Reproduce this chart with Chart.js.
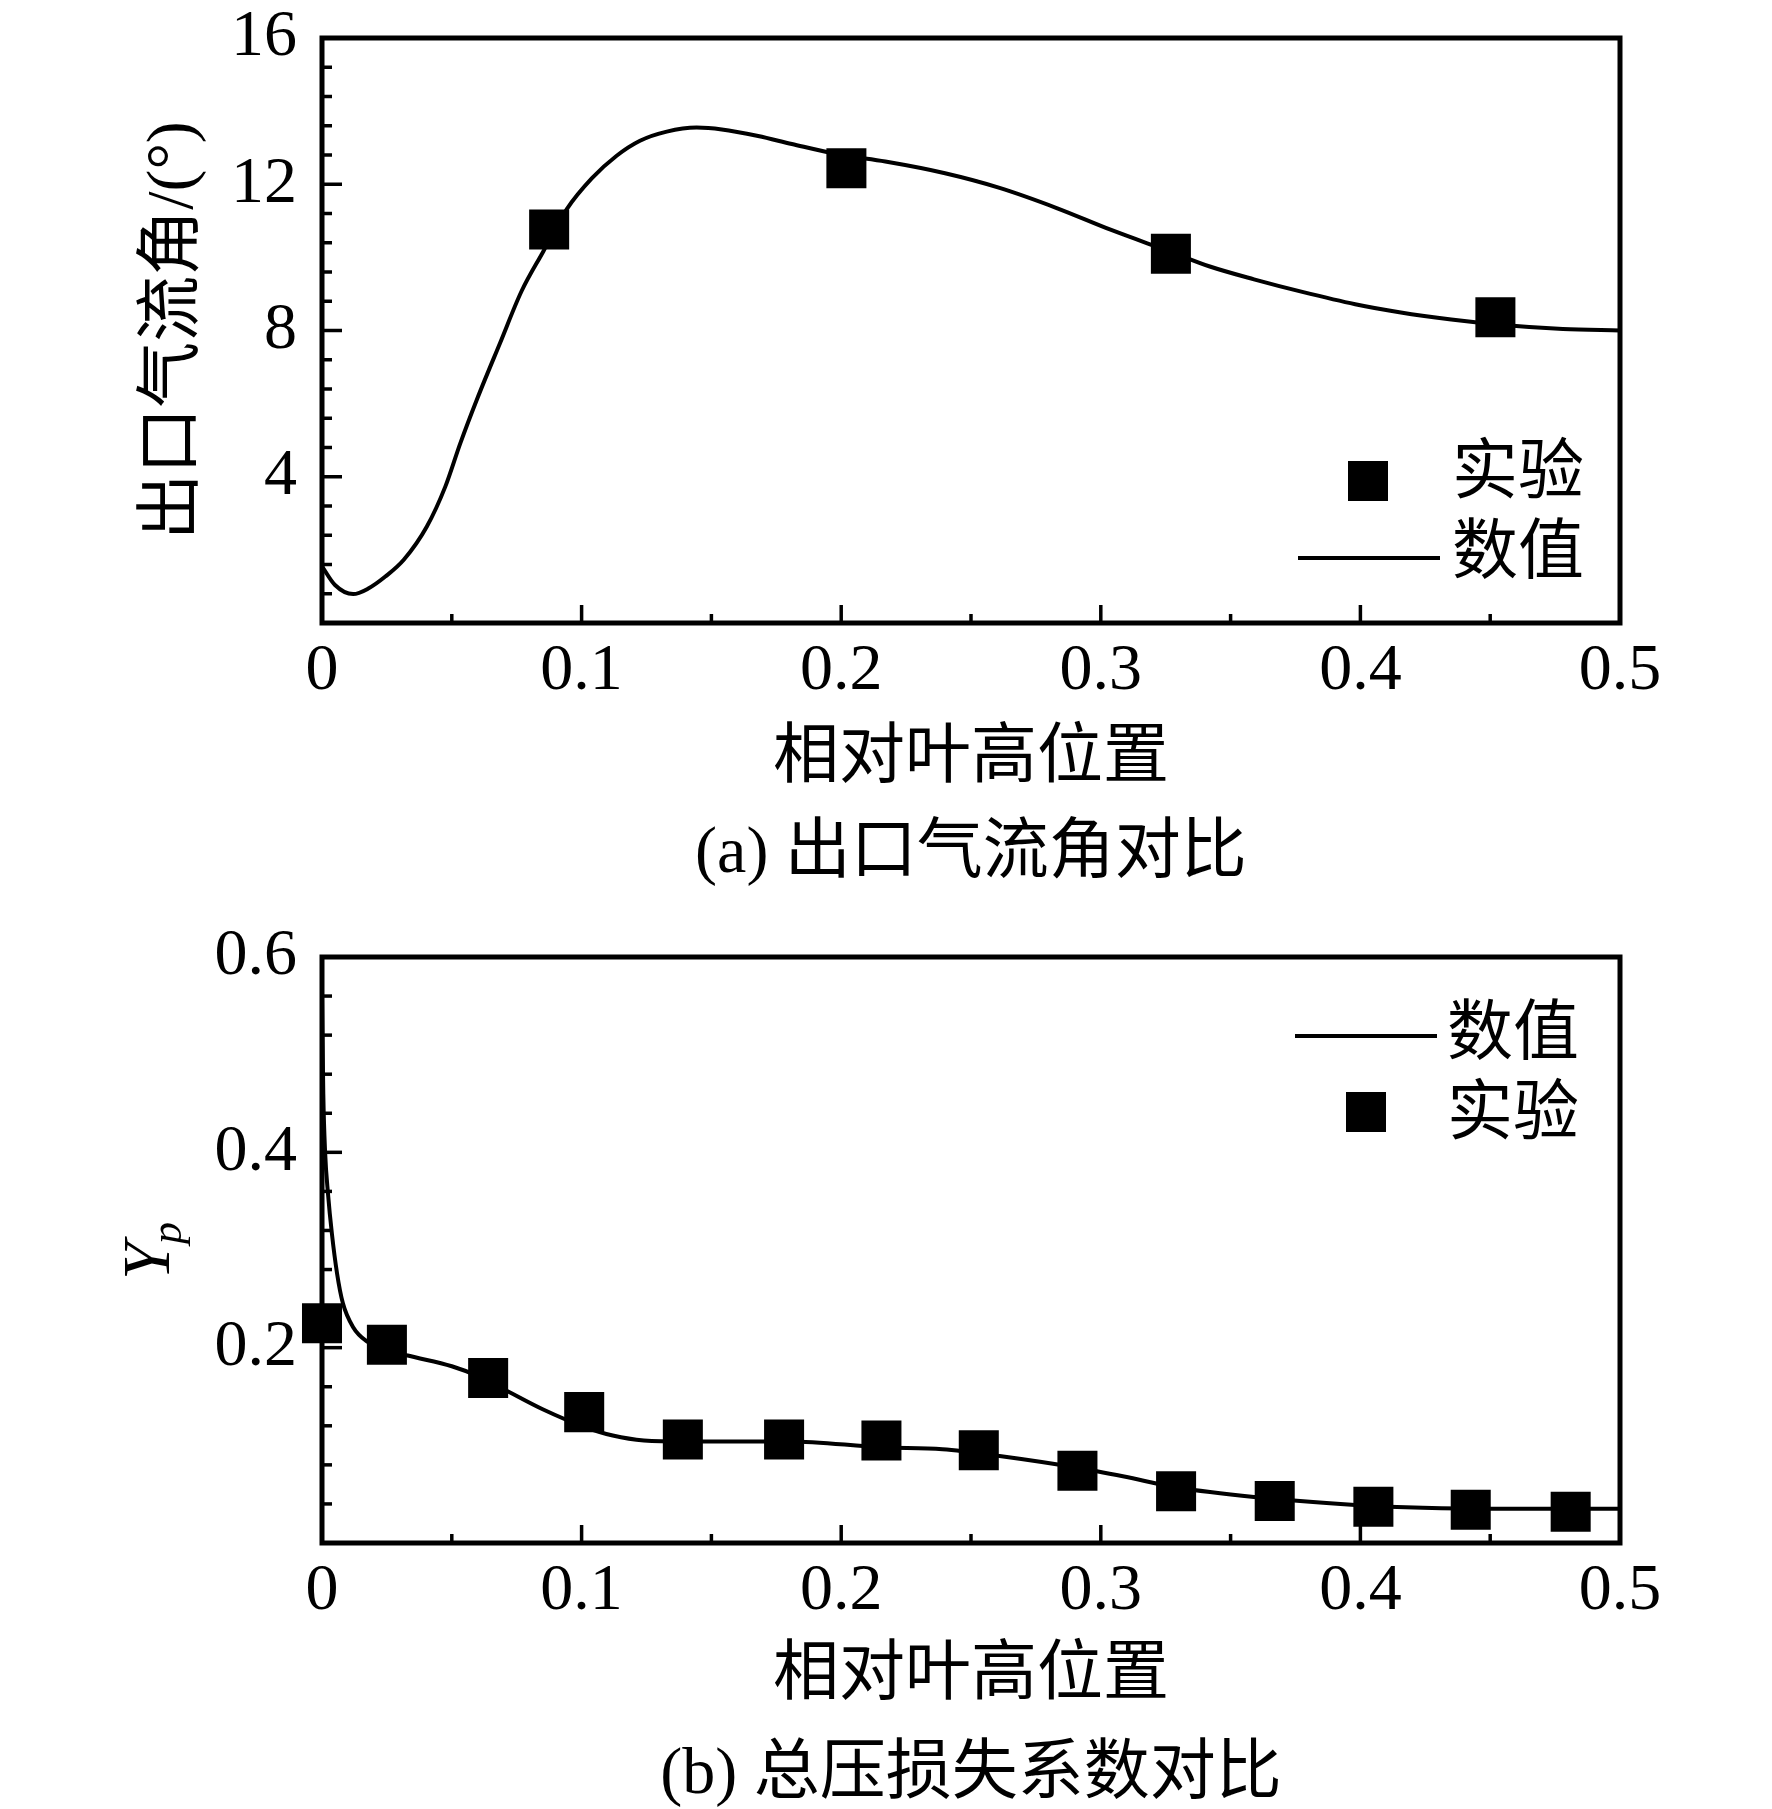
<!DOCTYPE html>
<html lang="zh">
<head>
<meta charset="utf-8">
<title>出口气流角与总压损失系数对比</title>
<script src="https://cdn.jsdelivr.net/npm/chart.js@4.4.1/dist/chart.umd.min.js"></script>
<style>
    html, body { margin: 0; padding: 0; background: #fff; }
    body { width: 1772px; height: 1809px; position: relative; overflow: hidden; }
    canvas { position: absolute; left: 0; }
    #angleChart { top: 0; }
    #lossChart { top: 900px; }
    .caption {
        position: absolute;
        left: 171px;
        width: 1600px;
        text-align: center;
        font: 66px/66px "Liberation Serif", "Noto Sans CJK SC", serif;
        color: #000;
    }
</style>
</head>
<body>
<canvas id="angleChart" width="1772" height="900"></canvas>
<canvas id="lossChart" width="1772" height="909"></canvas>
<div class="caption" style="top:817px">(a) 出口气流角对比</div>
<div class="caption" style="top:1738px">(b) 总压损失系数对比</div>

<script>
// 坐标轴刻度
const xTicks = [0, 0.1, 0.2, 0.3, 0.4, 0.5];
const angleTicks = [4, 8, 12, 16];
const lossTicks = [0.2, 0.4, 0.6];

// (a) 出口气流角 —— 实验
const angleExpX = [0.0875, 0.202, 0.327, 0.452];
const angleExpY = [10.76, 12.44, 10.1, 8.36];

// (a) 出口气流角 —— 数值
const angleSimX = [0, 0.005, 0.012, 0.018, 0.0244, 0.0315, 0.0404, 0.0475, 0.0533, 0.0596,
    0.0686, 0.0769, 0.0853, 0.0943, 0.1039, 0.1135, 0.1225, 0.1328, 0.1443, 0.154, 0.168,
    0.181, 0.200, 0.217, 0.240, 0.261, 0.283, 0.304, 0.327, 0.342, 0.359, 0.378, 0.398,
    0.415, 0.435, 0.455, 0.478, 0.500];
const angleSimY = [1.55, 1.04, 0.79, 0.95, 1.27, 1.73, 2.64, 3.73, 4.92, 6.10,
    7.66, 9.08, 10.17, 11.32, 12.16, 12.78, 13.19, 13.44, 13.55, 13.50, 13.32,
    13.10, 12.80, 12.62, 12.30, 11.90, 11.35, 10.75, 10.15, 9.75, 9.40, 9.05, 8.72,
    8.50, 8.30, 8.15, 8.04, 8.00];

// (b) 总压损失系数 —— 实验
const lossExpX = [0.0, 0.025, 0.064, 0.101, 0.139, 0.178, 0.2155, 0.253, 0.291, 0.329,
    0.367, 0.405, 0.4425, 0.481];
const lossExpY = [0.225, 0.203, 0.169, 0.134, 0.106, 0.106, 0.105, 0.095, 0.074, 0.053,
    0.043, 0.037, 0.034, 0.032];

// (b) 总压损失系数 —— 数值
const lossSimX = [0, 0.0005, 0.0012, 0.0023, 0.0038, 0.0058, 0.008, 0.012, 0.017, 0.025,
    0.033, 0.050, 0.060, 0.0697, 0.085, 0.101, 0.112, 0.124, 0.140, 0.159, 0.180, 0.2155,
    0.239, 0.261, 0.291, 0.309, 0.329, 0.359, 0.398, 0.424, 0.457, 0.500];
const lossSimY = [0.56, 0.46, 0.40, 0.358, 0.317, 0.276, 0.246, 0.221, 0.207, 0.198,
    0.192, 0.181, 0.171, 0.158, 0.137, 0.119, 0.110, 0.105, 0.104, 0.104, 0.104, 0.098,
    0.096, 0.089, 0.077, 0.068, 0.057, 0.047, 0.039, 0.036, 0.035, 0.035];

const FONT = '"Liberation Serif", "Noto Sans CJK SC", serif';

function toPoints(xs, ys) {
    return xs.map((x, i) => ({ x: x, y: ys[i] }));
}

// 边框和向内的刻度线
const frameTicks = {
    id: 'frameTicks',
    beforeDatasetsDraw(chart, args, opts) {
        const { ctx, chartArea: a, scales: { x, y } } = chart;
        ctx.save();
        ctx.strokeStyle = '#000';
        ctx.lineWidth = 3.5;
        ctx.lineCap = 'butt';
        const seg = (x1, y1, x2, y2) => {
            ctx.beginPath(); ctx.moveTo(x1, y1); ctx.lineTo(x2, y2); ctx.stroke();
        };
        // x 轴
        const nx = Math.round((x.max - x.min) / opts.xStep * opts.xDiv);
        for (let i = 0; i <= nx; i++) {
            const px = x.getPixelForValue(x.min + i * opts.xStep / opts.xDiv);
            seg(px, a.bottom, px, a.bottom - (i % opts.xDiv === 0 ? 18 : 9));
        }
        // y 轴
        const ny = Math.round((y.max - y.min) / opts.yStep * opts.yDiv);
        for (let i = 0; i <= ny; i++) {
            const py = y.getPixelForValue(y.min + i * opts.yStep / opts.yDiv);
            seg(a.left, py, a.left + (i % opts.yDiv === 0 ? 20 : 10), py);
        }
        ctx.lineWidth = 5;
        ctx.strokeRect(a.left, a.top, a.right - a.left, a.bottom - a.top);
        ctx.restore();
    }
};

// 图例
const cornerLegend = {
    id: 'cornerLegend',
    afterDraw(chart, args, opts) {
        const ctx = chart.ctx;
        ctx.save();
        ctx.fillStyle = '#000';
        ctx.strokeStyle = '#000';
        ctx.font = '66px ' + FONT;
        ctx.textBaseline = 'middle';
        ctx.textAlign = 'left';
        opts.items.forEach(it => {
            if (it.type === 'rect') {
                ctx.fillRect(it.mx - 20, it.my - 20, 40, 40);
            } else {
                ctx.lineWidth = 4;
                ctx.beginPath();
                ctx.moveTo(it.mx, it.my);
                ctx.lineTo(it.mx2, it.my);
                ctx.stroke();
            }
            ctx.fillText(it.text, it.tx, it.ty);
        });
        ctx.restore();
    }
};

// Y_p 纵轴标题
const ypTitle = {
    id: 'ypTitle',
    afterDraw(chart, args, opts) {
        if (!opts.show) return;
        const ctx = chart.ctx;
        const a = chart.chartArea;
        ctx.save();
        ctx.translate(155, (a.top + a.bottom) / 2);
        ctx.rotate(-Math.PI / 2);
        ctx.fillStyle = '#000';
        ctx.textBaseline = 'alphabetic';
        ctx.textAlign = 'left';
        ctx.font = 'italic 68px "Liberation Serif", serif';
        const wY = ctx.measureText('Y').width;
        ctx.font = 'italic 44px "Liberation Serif", serif';
        const wp = ctx.measureText('p').width;
        const x0 = -(wY + wp) / 2;
        ctx.font = 'italic 68px "Liberation Serif", serif';
        ctx.fillText('Y', x0, 14);
        ctx.font = 'italic 44px "Liberation Serif", serif';
        ctx.fillText('p', x0 + wY - 2, 26);
        ctx.restore();
    }
};

function makeChart(id, cfg) {
    const tickFont = { family: FONT, size: 66, lineHeight: 1 };
    const titleFont = { family: FONT, size: 66, lineHeight: 1.2 };
    const datasets = [
        {
            label: '数值',
            data: toPoints(cfg.simX, cfg.simY),
            showLine: true,
            borderColor: '#000',
            borderWidth: 4,
            pointRadius: 0,
            cubicInterpolationMode: 'monotone',
            clip: false,
            order: 2
        },
        {
            label: '实验',
            data: toPoints(cfg.expX, cfg.expY),
            showLine: false,
            pointStyle: 'rect',
            pointRadius: 28.3,
            backgroundColor: '#000',
            borderColor: '#000',
            borderWidth: 0,
            clip: false,
            order: 1
        }
    ];
    return new Chart(document.getElementById(id), {
        type: 'scatter',
        data: { datasets: datasets },
        plugins: [frameTicks, cornerLegend, ypTitle],
        options: {
            responsive: false,
            animation: false,
            devicePixelRatio: 1,
            layout: { padding: { left: 0, right: 152, top: cfg.padTop, bottom: 0 } },
            plugins: {
                legend: { display: false },
                tooltip: { enabled: false },
                frameTicks: { xStep: 0.1, xDiv: 2, yStep: cfg.yStep, yDiv: 5 },
                cornerLegend: { items: cfg.legend },
                ypTitle: { show: cfg.ypTitle }
            },
            scales: {
                x: {
                    type: 'linear',
                    min: 0,
                    max: 0.5,
                    grid: { display: false, drawTicks: false },
                    border: { display: false },
                    afterBuildTicks: s => { s.ticks = xTicks.map(v => ({ value: v })); },
                    afterFit: s => {
                        s.height = cfg.xHeight;
                        s.paddingLeft = 0;
                        s.paddingRight = 0;
                    },
                    ticks: {
                        color: '#000',
                        font: tickFont,
                        padding: 16,
                        maxRotation: 0,
                        autoSkip: false,
                        callback: v => String(v)
                    },
                    title: {
                        display: true,
                        text: '相对叶高位置',
                        color: '#000',
                        font: titleFont,
                        padding: { top: 0, bottom: cfg.xTitlePad }
                    }
                },
                y: {
                    type: 'linear',
                    min: 0,
                    max: cfg.yMax,
                    grid: { display: false, drawTicks: false },
                    border: { display: false },
                    afterBuildTicks: s => { s.ticks = cfg.yTicks.map(v => ({ value: v })); },
                    afterFit: s => {
                        s.width = 322;
                        s.paddingTop = 0;
                        s.paddingBottom = 0;
                    },
                    ticks: {
                        color: '#000',
                        font: tickFont,
                        padding: 25,
                        autoSkip: false,
                        callback: v => String(v)
                    },
                    title: {
                        display: !!cfg.yTitle,
                        text: cfg.yTitle || '',
                        color: '#000',
                        font: titleFont,
                        padding: { top: 135, bottom: 0 }
                    }
                }
            }
        }
    });
}

window.addEventListener('DOMContentLoaded', () => {
    makeChart('angleChart', {
        simX: angleSimX, simY: angleSimY,
        expX: angleExpX, expY: angleExpY,
        yMax: 16, yStep: 4, yTicks: angleTicks,
        yTitle: '出口气流角/(°)',
        ypTitle: false,
        padTop: 38, xHeight: 277, xTitlePad: 101,
        legend: [
            { type: 'rect', mx: 1368, my: 481, text: '实验', tx: 1452, ty: 476 },
            { type: 'line', mx: 1298, mx2: 1440, my: 558, text: '数值', tx: 1452, ty: 556 }
        ]
    });
    makeChart('lossChart', {
        simX: lossSimX, simY: lossSimY,
        expX: lossExpX, expY: lossExpY,
        yMax: 0.6, yStep: 0.2, yTicks: lossTicks,
        yTitle: null,
        ypTitle: true,
        padTop: 57, xHeight: 266, xTitlePad: 93,
        legend: [
            { type: 'line', mx: 1295, mx2: 1437, my: 136, text: '数值', tx: 1447, ty: 137 },
            { type: 'rect', mx: 1366, my: 212, text: '实验', tx: 1447, ty: 217 }
        ]
    });
});
</script>
</body>
</html>
